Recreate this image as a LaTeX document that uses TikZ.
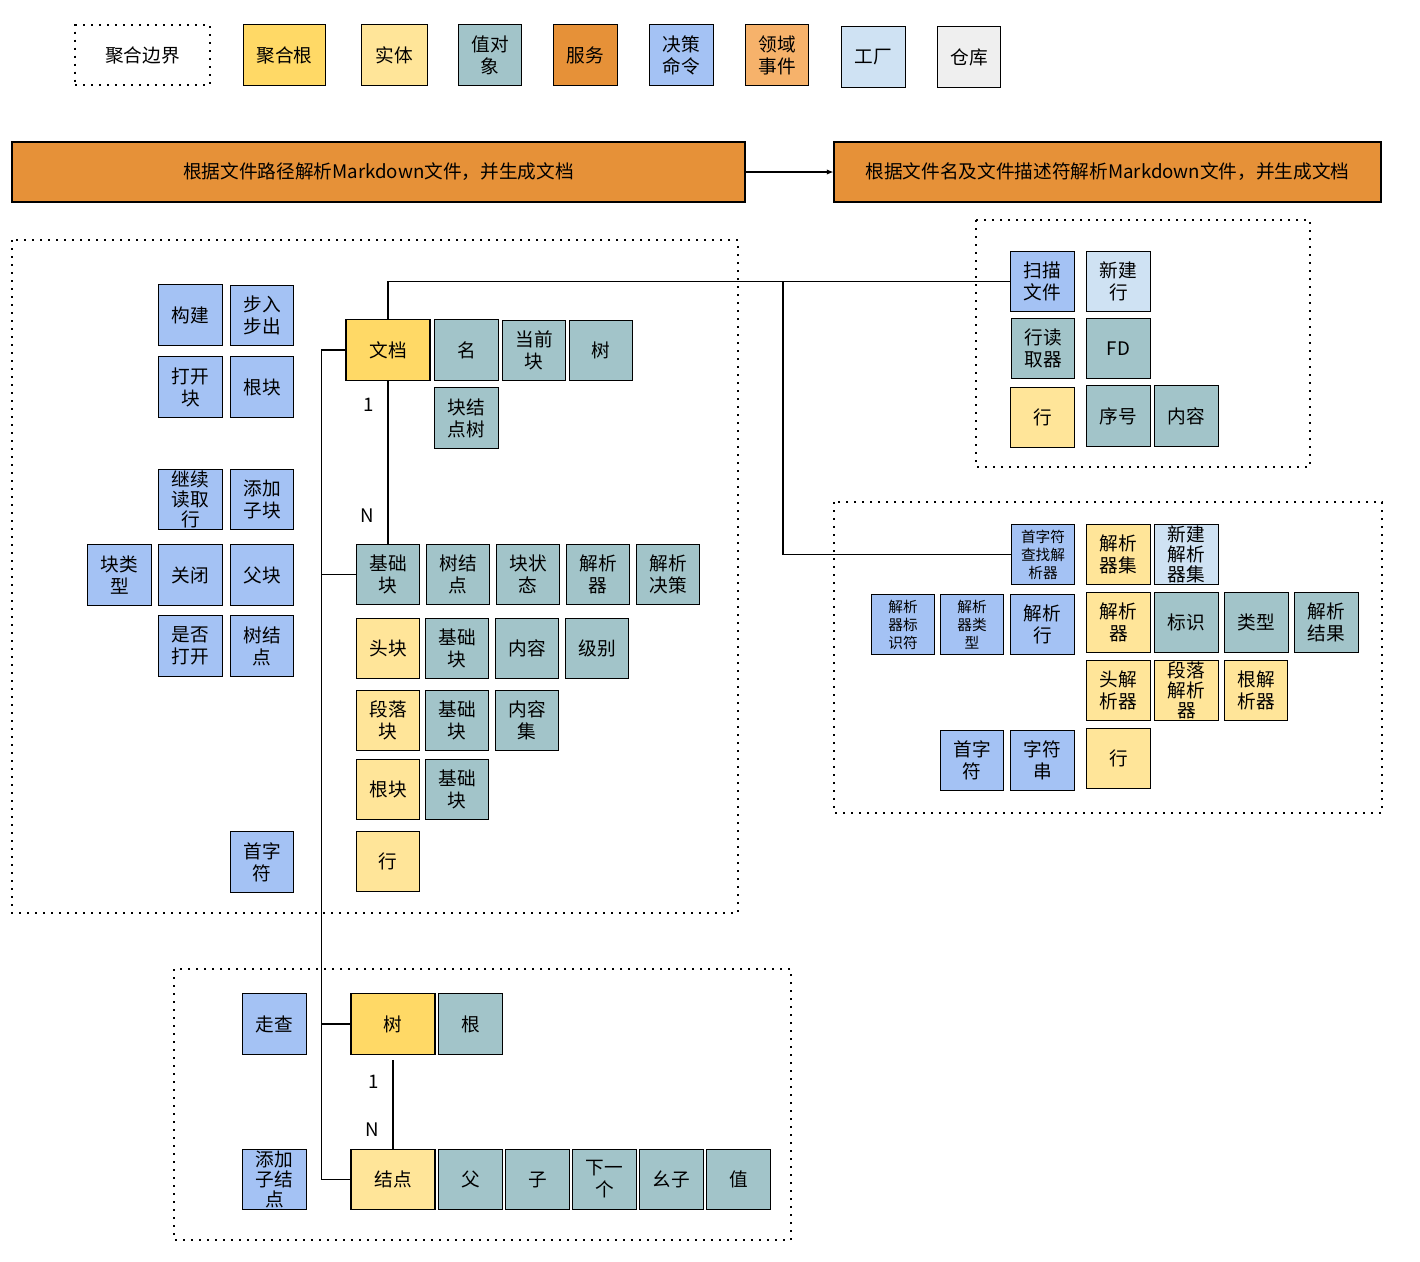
\documentclass[tikz,border=0pt]{standalone}
\usepackage{fontspec}
\setmainfont{Noto Sans CJK SC}
\usepackage{tikz}
\usetikzlibrary{arrows.meta}
\definecolor{rootc}{HTML}{FFD966}
\definecolor{entityc}{HTML}{FFE599}
\definecolor{valuec}{HTML}{A2C4C9}
\definecolor{servicec}{HTML}{E69138}
\definecolor{cmdc}{HTML}{A4C2F4}
\definecolor{eventc}{HTML}{F6B26B}
\definecolor{factoryc}{HTML}{CFE2F3}
\definecolor{repoc}{HTML}{EFEFEF}
\tikzstyle{txt}=[font=\fontsize{14}{16.5}\selectfont]
\tikzstyle{tripletxt}=[font=\fontsize{14}{14.8}\selectfont]
\tikzstyle{smalltxt}=[font=\fontsize{11}{13.5}\selectfont]
\tikzstyle{dbox}=[draw, line width=0.8pt, minimum width=47.5pt, minimum height=45.5pt, inner sep=0pt, align=center, txt]
\tikzstyle{rootbox}=[dbox, fill=rootc]
\tikzstyle{entitybox}=[dbox, fill=entityc]
\tikzstyle{valuebox}=[dbox, fill=valuec]
\tikzstyle{servicebox}=[dbox, fill=servicec]
\tikzstyle{cmdbox}=[dbox, fill=cmdc]
\tikzstyle{eventbox}=[dbox, fill=eventc]
\tikzstyle{factorybox}=[dbox, fill=factoryc]
\tikzstyle{repobox}=[dbox, fill=repoc]
\tikzstyle{boundary}=[draw, line width=1.5pt, dash pattern=on 1.5pt off 4.5pt]
\tikzstyle{link}=[line width=0.9pt]
\begin{document}
\begin{tikzpicture}[x=0.75pt, y=-0.75pt]
\useasboundingbox (0,0) rectangle (1420,1261);

% legend
\node[boundary, txt, minimum width=101pt, minimum height=45pt] (lgbound) at (142.5,55) {聚合边界};
\node[rootbox, minimum width=62pt] (lgroot) at (284.5,55) {聚合根};
\node[entitybox, minimum width=49pt] (lgentity) at (394.5,55) {实体};
\node[valuebox] (lgvalue) at (490,55) {值对\\象};
\node[servicebox] (lgservice) at (585.5,55) {服务};
\node[cmdbox] (lgcmd) at (681.5,55) {决策\\命令};
\node[eventbox] (lgevent) at (777,55) {领域\\事件};
\node[factorybox] (lgfactory) at (873.5,57) {工厂};
\node[repobox] (lgrepo) at (969,57) {仓库};

% services
\node[servicebox, minimum width=549.75pt, minimum height=45pt] (svcpath) at (378.5,172) {根据文件路径解析Markdown文件，并生成文档};
\node[servicebox, minimum width=410.25pt, minimum height=45pt] (svcfd) at (1107.5,172) {根据文件名及文件描述符解析Markdown文件，并生成文档};
\draw[link, -{Latex[length=5pt, width=4pt]}] (svcpath) -- (svcfd);

% boundaries
\draw[boundary] (12,240) rectangle (738,913);
\draw[boundary] (976,220) rectangle (1310,467);
\draw[boundary] (834,502) rectangle (1382,813);
\draw[boundary] (174,969) rectangle (791,1240);

% document aggregate
\node[cmdbox] (build) at (190.5,315) {构建};
\node[cmdbox] (stepio) at (262,315.5) {步入\\步出};
\node[cmdbox] (openblk) at (190.5,387) {打开\\块};
\node[cmdbox] (rootblk) at (262,387) {根块};
\node[cmdbox, tripletxt] (contread) at (190.5,499.5) {继续\\读取\\行};
\node[cmdbox] (addchild) at (262,499.5) {添加\\子块};
\node[cmdbox] (blktype) at (119.5,575) {块类\\型};
\node[cmdbox] (close) at (190.5,575) {关闭};
\node[cmdbox] (parentblk) at (262,575) {父块};
\node[cmdbox] (isopen) at (190.5,646) {是否\\打开};
\node[cmdbox] (treenode) at (262,646) {树结\\点};
\node[cmdbox] (firstchar) at (262,862) {首字\\符};

\node[rootbox, minimum width=63pt] (doc) at (388,350) {文档};
\node[valuebox] (name) at (466.5,350) {名};
\node[valuebox] (curblk) at (534,350.5) {当前\\块};
\node[valuebox] (doctree) at (601,350.5) {树};
\node[valuebox] (blktree) at (466.5,418) {块结\\点树};

\node[valuebox] (base) at (388,574.5) {基础\\块};
\foreach \t [count=\i] in {{树结\\点},{块状\\态},{解析\\器},{解析\\决策}}
  \node[valuebox] (bv\i) at (388+70*\i,574.5) {\t};
\node[entitybox] (head) at (388,648.5) {头块};
\foreach \t [count=\i] in {{基础\\块},内容,级别}
  \node[valuebox] (hv\i) at (387+70*\i,648.5) {\t};
\node[entitybox] (para) at (388,720.5) {段落\\块};
\foreach \t [count=\i] in {{基础\\块},{内容\\集}}
  \node[valuebox] (pv\i) at (387+70*\i,720.5) {\t};
\node[entitybox] (rootb) at (388,789.5) {根块};
\node[valuebox] (rv1) at (457,789.5) {基础\\块};
\node[entitybox] (line) at (388,861.5) {行};

% line reader
\node[cmdbox] (scan) at (1042.5,281.5) {扫描\\文件};
\node[factorybox] (newline) at (1118.5,281.5) {新建\\行};
\node[valuebox] (reader) at (1043,348.5) {行读\\取器};
\node[valuebox] (fd) at (1118.5,348.5) {FD};
\node[entitybox] (line2) at (1042.5,417.5) {行};
\node[valuebox] (seq) at (1118.5,416) {序号};
\node[valuebox] (lcontent) at (1186.5,416) {内容};

% parsers
\node[cmdbox, smalltxt] (findp) at (1043,554.5) {首字符\\查找解\\析器};
\node[entitybox] (pset) at (1118.5,554.5) {解析\\器集};
\node[factorybox, tripletxt] (newpset) at (1186.5,554.5) {新建\\解析\\器集};
\node[cmdbox, smalltxt] (pid) at (903,624.5) {解析\\器标\\识符};
\node[cmdbox, smalltxt] (ptype) at (972,624.5) {解析\\器类\\型};
\node[cmdbox] (pline) at (1042.5,624.5) {解析\\行};
\node[entitybox] (parser) at (1118.5,622.5) {解析\\器};
\foreach \t [count=\i] in {标识,类型,{解析\\结果}}
  \node[valuebox] (pr\i) at (1116.5+70*\i,622.5) {\t};
\node[entitybox] (hparser) at (1118.5,690.5) {头解\\析器};
\node[entitybox, tripletxt] (pparser) at (1186.5,690.5) {段落\\解析\\器};
\node[entitybox] (rparser) at (1256,690.5) {根解\\析器};
\node[cmdbox] (fchar) at (972,760.5) {首字\\符};
\node[cmdbox] (str) at (1042.5,760.5) {字符\\串};
\node[entitybox] (line3) at (1118.5,758.5) {行};

% tree
\node[cmdbox] (walk) at (274.5,1024) {走查};
\node[cmdbox, tripletxt] (addnode) at (274.5,1179.5) {添加\\子结\\点};
\node[rootbox, minimum width=63pt] (tree) at (393,1024) {树};
\node[valuebox] (troot) at (470.5,1024) {根};
\node[entitybox, minimum width=63pt] (tnode) at (393,1179.5) {结点};
\foreach \t [count=\i] in {父,子,{下一\\个},幺子,值}
  \node[valuebox] (nv\i) at (403.5+67*\i,1179.5) {\t};

% connectors
\coordinate (rail) at ([xshift=-18pt]doc.west);
\coordinate (fork) at (783,281.5);
\draw[link] (doc.north) |- (scan.west);
\draw[link] (fork) |- (findp.west);
\draw[link] (doc.south) -- node[txt, pos=0.15, left=6.5pt] {1} node[txt, pos=0.83, left=6.5pt] {N} (base.north);
\draw[link] (doc.west) -- (rail) |- (tnode.west);
\draw[link] (rail |- base.west) -- (base.west);
\draw[link] (rail |- tree.west) -- (tree.west);
\draw[link] ([yshift=-4pt]tree.south) -- node[txt, pos=0.25, left=6.5pt] {1} node[txt, pos=0.79, left=6.5pt] {N} (tnode.north);
\end{tikzpicture}
\end{document}
